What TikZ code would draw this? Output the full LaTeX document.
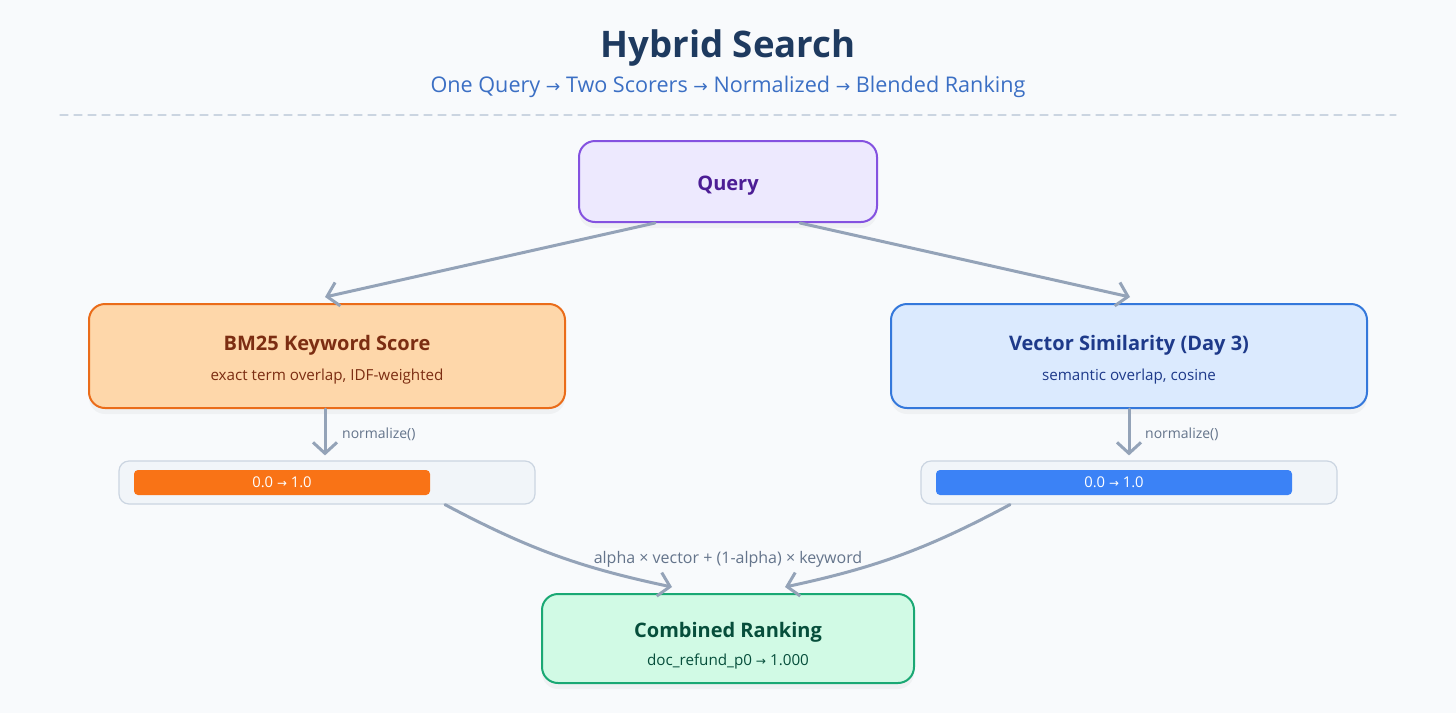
\documentclass[tikz,border=0pt]{standalone}
\usepackage{fontspec}
\setmainfont{Open Sans}
\newfontfamily\symfont{DejaVu Sans}
\usetikzlibrary{arrows.meta,shadows}
\definecolor{bgc}{HTML}{F8FAFC}
\definecolor{titlec}{HTML}{1E3A5F}
\definecolor{subc}{HTML}{3B6FC4}
\definecolor{rulec}{HTML}{CBD5E1}
\definecolor{arrowc}{HTML}{94A3B8}
\definecolor{labelc}{HTML}{64748B}
\definecolor{qfill}{HTML}{EDE9FE}
\definecolor{qline}{HTML}{8452E0}
\definecolor{qtext}{HTML}{4C1D95}
\definecolor{kwfill}{HTML}{FED7AA}
\definecolor{kwline}{HTML}{EA6C1A}
\definecolor{kwtext}{HTML}{7C2D12}
\definecolor{vecfill}{HTML}{DBEAFE}
\definecolor{vecline}{HTML}{3478DB}
\definecolor{vectext}{HTML}{1E3A8A}
\definecolor{cbfill}{HTML}{D1FAE5}
\definecolor{cbline}{HTML}{1AA874}
\definecolor{cbtext}{HTML}{064E3B}
\definecolor{trackc}{HTML}{F1F5F9}
\definecolor{kwbarc}{HTML}{F97316}
\definecolor{vecbarc}{HTML}{3B82F6}
\newcommand{\ra}{{\symfont\scalebox{0.8}{→}}}
\begin{document}
\begin{tikzpicture}[x=0.5pt, y=-0.5pt, font=\fontsize{7.6}{9}\selectfont, line join=round, line cap=round,
  >={Straight Barb[length=5.5pt,width=12pt]},
  box/.style={draw, line width=1pt, rounded corners=8pt,
    drop shadow={opacity=0.07, shadow xshift=0pt, shadow yshift=-3pt}},
  head/.style={anchor=base, font=\bfseries\fontsize{10}{12}\selectfont},
  sub/.style={anchor=base},
  track/.style={draw=rulec, fill=trackc, line width=0.6pt, rounded corners=5pt,
    minimum width=208pt, minimum height=21.5pt},
  fillbar/.style={rounded corners=2pt, minimum height=12.5pt, text=white,
    font=\fontsize{7.4}{8}\selectfont, inner sep=0pt},
  flow/.style={->, draw=arrowc, line width=1.5pt},
  note/.style={text=labelc, font=\fontsize{7}{8}\selectfont}]
\useasboundingbox[fill=bgc] (0,0) rectangle (1456,713);
\node[anchor=base, text=titlec, font=\bfseries\fontsize{18.3}{20}\selectfont] (title) at (728,57) {Hybrid Search};
\node[anchor=base, text=subc, font=\fontsize{10.8}{12}\selectfont] (subtitle) at (728,92)
  {One Query \ra{} Two Scorers \ra{} Normalized \ra{} Blended Ranking};
\draw[rulec, line width=0.6pt, dash pattern=on 4pt off 3pt] (60,115) -- (1396,115);

% boxes
\node[box, fill=qfill, draw=qline, minimum width=149pt, minimum height=40.5pt] (query) at (728,181.5) {};
\node[head, text=qtext] (qhead) at (728,190) {Query};
\node[box, fill=kwfill, draw=kwline, minimum width=238pt, minimum height=52pt] (kw) at (327,356) {};
\node[head, text=kwtext] (kwhead) at (327,350) {BM25 Keyword Score};
\node[sub, text=kwtext] (kwsub) at (327,380) {exact term overlap, IDF-weighted};
\node[box, fill=vecfill, draw=vecline, minimum width=238pt, minimum height=52pt] (vec) at (1129,356) {};
\node[head, text=vectext] (vechead) at (1129,350) {Vector Similarity (Day 3)};
\node[sub, text=vectext] (vecsub) at (1129,380) {semantic overlap, cosine};

\node[track] (kwbar) at (327,482.5) {};
\node[fillbar, fill=kwbarc, minimum width=148pt] (kwfill) at (282,482.5) {0.0 \ra{} 1.0};
\node[track] (vecbar) at (1129,482.5) {};
\node[fillbar, fill=vecbarc, minimum width=178pt] (vecfill) at (1114,482.5) {0.0 \ra{} 1.0};

\node[box, fill=cbfill, draw=cbline, minimum width=186pt, minimum height=44.5pt] (comb) at (728,638.5) {};
\node[head, text=cbtext] (cbhead) at (728,637) {Combined Ranking};
\node[sub, text=cbtext] (cbsub) at (728,665) {doc\_refund\_p0 \ra{} 1.000};

% arrows
\draw[flow] ([xshift=-36.5pt]query.south) -- ([xshift=-1pt,yshift=3pt]kw.north);
\draw[flow] ([xshift=36pt]query.south) -- ([xshift=0.5pt,yshift=3pt]vec.north);
\draw[flow] ([xshift=-1pt]kw.south) -- ([xshift=-1pt,yshift=2.5pt]kwbar.north)
  node[midway, right=4.5pt, yshift=-1pt, note] {normalize()};
\draw[flow] (vec.south) -- ([yshift=2.5pt]vecbar.north)
  node[midway, right=4pt, yshift=-1pt, note] {normalize()};
\draw[flow] ([xshift=59pt]kwbar.south) to[bend right=8] ([xshift=-28pt,yshift=3pt]comb.north);
\draw[flow] ([xshift=-59.5pt]vecbar.south) to[bend left=8] ([xshift=28.5pt,yshift=3pt]comb.north);
\node[text=labelc, font=\fontsize{8}{9}\selectfont] (blend) at (728,559) {alpha × vector + (1-alpha) × keyword};
\end{tikzpicture}
\end{document}
